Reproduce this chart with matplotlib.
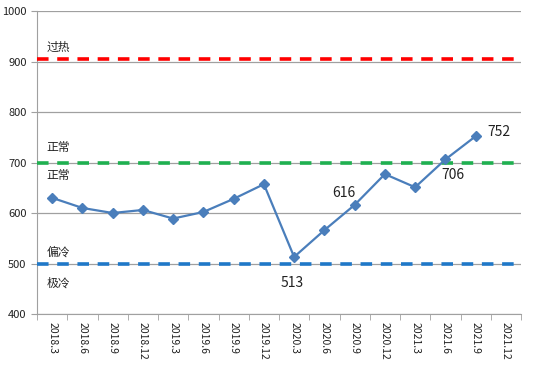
import matplotlib
matplotlib.use("Agg")
import matplotlib.pyplot as plt

plt.rcParams['font.family'] = ['Noto Sans CJK SC', 'DejaVu Sans']

categories = ["2018.3", "2018.6", "2018.9", "2018.12", "2019.3", "2019.6", "2019.9", "2019.12",
              "2020.3", "2020.6", "2020.9", "2020.12", "2021.3", "2021.6", "2021.9", "2021.12"]
values = [630, 610, 600, 606, 589, 602, 628, 657, 513, 566, 616, 677, 651, 706, 752, None]
hot_level = 904
normal_level = 700
cold_level = 500
annotated = {"2020.9": "616", "2020.3": "513", "2021.6": "706", "2021.9": "752"}

fig = plt.figure(figsize=(5.43, 3.65), dpi=100)
ax = fig.add_axes([37/543, 51/365, 484/543, 303/365])

n = len(categories)
xs = list(range(n))
pts = [(x, v) for x, v in zip(xs, values) if v is not None]
ax.plot([p[0] for p in pts], [p[1] for p in pts], color='#4a7ebb', lw=1.6,
        marker='D', ms=4.8, zorder=5)

for lvl, col in [(hot_level, '#ff0000'), (normal_level, '#1fb050'), (cold_level, '#1f78c8')]:
    ax.axhline(lvl, color=col, lw=2.6, ls=(0, (3.2, 2.4)), zorder=4)

ax.set_xlim(-0.5, n - 0.5)
ax.set_ylim(400, 1000)
ax.set_yticks(range(400, 1001, 100))
ax.yaxis.grid(True, color='#a0a0a0', lw=0.9)
ax.set_axisbelow(True)
ax.set_xticks(xs)
ax.set_xticklabels(categories, rotation=270, fontsize=7.5, color='#222222')
ax.set_xticks([x - 0.5 for x in range(n + 1)], minor=True)
ax.tick_params(axis='x', which='major', length=0, pad=6)
ax.tick_params(axis='x', which='minor', length=4, color='#a0a0a0')
ax.tick_params(axis='y', length=4, color='#a0a0a0', labelsize=8, labelcolor='#222222')
for s in ['top', 'right']:
    ax.spines[s].set_visible(False)
for s in ['left', 'bottom']:
    ax.spines[s].set_color('#a0a0a0')

tk = dict(fontsize=8.5, color='#222222', ha='center', va='center')
ax.text(0.2, 927, "过热", **tk)
ax.text(0.2, 729, "正常", **tk)
ax.text(0.2, 675, "正常", **tk)
ax.text(0.2, 523, "偏冷", **tk)
ax.text(0.2, 461, "极冷", **tk)

offsets = {"2020.9": (-0.35, 24), "2020.3": (-0.05, -52), "2021.6": (0.25, -31), "2021.9": (0.77, 8)}
for cat, lab in annotated.items():
    i = categories.index(cat)
    dx, dy = offsets[cat]
    ax.text(i + dx, values[i] + dy, lab, fontsize=10, color='#222222', ha='center', va='center')

fig.savefig("out.png", dpi=100)
